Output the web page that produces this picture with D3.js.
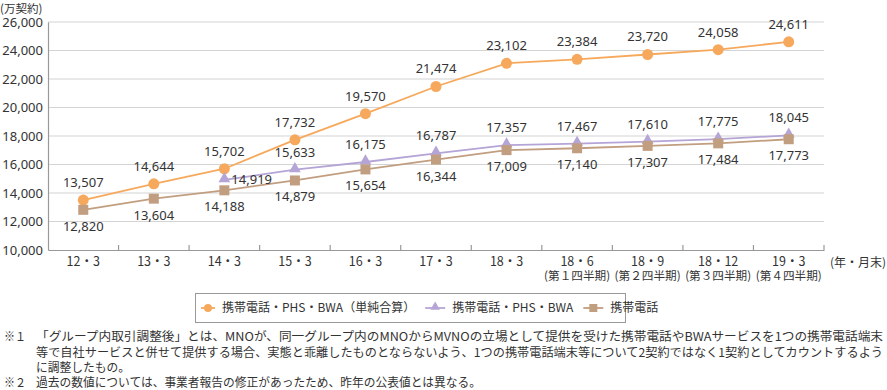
<!DOCTYPE html>
<html><head><meta charset="utf-8">
<script src="https://cdn.jsdelivr.net/npm/d3@7"></script>
<style>
body{margin:0;background:#fff;}
text{font-family:"Noto Sans CJK JP","Noto Sans",sans-serif;fill:#333;}
</style></head>
<body><svg id="c" width="887" height="390"></svg>
<script>
const categories = ["12・3","13・3","14・3","15・3","16・3","17・3","18・3","18・6","18・9","18・12","19・3"];
const subLabels = ["","","","","","","","(第１四半期)","(第２四半期)","(第３四半期)","(第４四半期)"];
const seriesTotal = [13507,14644,15702,17732,19570,21474,23102,23384,23720,24058,24611];
const seriesAdjusted = [null,null,14919,15633,16175,16787,17357,17467,17610,17775,18045];
const seriesMobile = [12820,13604,14188,14879,15654,16344,17009,17140,17307,17484,17773];
const yTicks = [10000,12000,14000,16000,18000,20000,22000,24000,26000];
const seriesNames = ["携帯電話・PHS・BWA（単純合算）","携帯電話・PHS・BWA","携帯電話"];
const notes = [
 ["※１","「グループ内取引調整後」とは、MNOが、同一グループ内のMNOからMVNOの立場として提供を受けた携帯電話やBWAサービスを1つの携帯電話端末"],
 ["","等で自社サービスと併せて提供する場合、実態と乖離したものとならないよう、1つの携帯電話端末等について2契約ではなく1契約としてカウントするよう"],
 ["","に調整したもの。"],
 ["※２","過去の数値については、事業者報告の修正があったため、昨年の公表値とは異なる。"]
];

const svg = d3.select("#c");
const L = 48, R = 824, T = 22, B = 250;
const x = d3.scaleBand().domain(categories).range([L, R]);
const y = d3.scaleLinear().domain([10000, 26000]).range([B, T]);
const fmt = d3.format(",");
const cx = c => x(c) + x.bandwidth()/2;

// gridlines
svg.append("g").selectAll("line").data(yTicks.slice(1)).join("line")
  .attr("x1", L).attr("x2", R).attr("y1", d=>y(d)).attr("y2", d=>y(d))
  .attr("stroke", "#d4d4d4").attr("stroke-width", 1.2);

// y axis
const ya = svg.append("g").attr("transform", `translate(${L},0)`)
  .call(d3.axisLeft(y).tickValues(yTicks).tickFormat(fmt).tickSize(0).tickPadding(5));
ya.select(".domain").attr("stroke", "#999").attr("stroke-width", 1.2);
ya.selectAll("text").style("font-size", "13px").attr("fill", "#333").style("font-family", "'Noto Sans',sans-serif");

// x axis
const xa = svg.append("g").attr("transform", `translate(0,${B})`)
  .call(d3.axisBottom(x).tickSize(0).tickPadding(0));
xa.select(".domain").attr("stroke", "#999").attr("stroke-width", 1.2);
xa.selectAll("text").attr("y", 16).attr("dy", null).style("font-size", "12.5px").attr("fill", "#333");
// boundary ticks
const bounds = categories.map(c => x(c)).slice(1).concat([R]);
svg.append("g").selectAll("line").data(bounds).join("line")
  .attr("x1", d=>d).attr("x2", d=>d).attr("y1", B-5).attr("y2", B)
  .attr("stroke", "#999").attr("stroke-width", 1.2);
// sub labels
svg.append("g").selectAll("text").data(categories.filter((d,i)=>subLabels[i])).join("text")
  .attr("x", d=>cx(d)).attr("y", 280).attr("text-anchor", "middle")
  .style("font-size", "11.5px")
  .attr("textLength", 66).attr("lengthAdjust", "spacingAndGlyphs")
  .text(d=>subLabels[categories.indexOf(d)]);
svg.append("text").attr("x", 830).attr("y", 267).style("font-size", "12px").text("(年・月末)");
svg.append("text").attr("x", 0).attr("y", 13).style("font-size", "11.5px").text("(万契約)");

const colors = ["#F6A95C", "#B4A5D6", "#C29E80"];
const allSeries = [seriesTotal, seriesAdjusted, seriesMobile];

allSeries.forEach((s, k) => {
  const pts = categories.map((c,i)=>({c, v:s[i], i})).filter(d=>d.v!=null);
  const line = d3.line().x(d=>cx(d.c)).y(d=>y(d.v));
  svg.append("path").datum(pts).attr("d", line).attr("fill","none")
    .attr("stroke", colors[k]).attr("stroke-width", 1.8);
  const g = svg.append("g");
  if (k === 0) {
    g.selectAll("circle").data(pts).join("circle")
      .attr("cx", d=>cx(d.c)).attr("cy", d=>y(d.v)).attr("r", 5.5).attr("fill", colors[k]);
  } else if (k === 1) {
    g.selectAll("path").data(pts).join("path")
      .attr("d", d3.symbol(d3.symbolTriangle, 60))
      .attr("transform", d=>`translate(${cx(d.c)},${y(d.v)-1})`).attr("fill", colors[k]);
  } else {
    g.selectAll("rect").data(pts).join("rect")
      .attr("x", d=>cx(d.c)-5).attr("y", d=>y(d.v)-5).attr("width", 10).attr("height", 10)
      .attr("fill", colors[k]);
  }
});

// data labels
const lab = svg.append("g").style("font-size", "13px");
function labels(s, k) {
  categories.forEach((c,i) => {
    const v = s[i]; if (v == null) return;
    let lx = cx(c), ly, anchor = "middle";
    if (k === 0) ly = y(v) - 13;
    else if (k === 1) {
      ly = y(v) - 13;
      if (i === 2) { lx = cx(c) + 7; ly = y(v) + 4; anchor = "start"; }
    } else ly = y(v) + 21;
    lab.append("text").attr("x", lx).attr("y", ly).attr("text-anchor", anchor)
      .style("font-family", "'Noto Sans',sans-serif").text(fmt(v));
  });
}
allSeries.forEach((s,k)=>labels(s,k));

// legend
const lg = svg.append("g");
lg.append("rect").attr("x", 195.5).attr("y", 293.5).attr("width", 430).attr("height", 29)
  .attr("fill", "#fff").attr("stroke", "#999");
let xpos = 201;
seriesNames.forEach((n,k) => {
  const x0 = xpos, yc = 308;
  const len = k===0 ? 14 : 20;
  lg.append("line").attr("x1", x0).attr("x2", x0+len).attr("y1", yc).attr("y2", yc)
    .attr("stroke", colors[k]).attr("stroke-width", 1.8);
  const m = x0 + len/2;
  if (k===0) lg.append("circle").attr("cx", m).attr("cy", yc).attr("r", 4).attr("fill", colors[k]);
  else if (k===1) lg.append("path").attr("d", d3.symbol(d3.symbolTriangle, 40)).attr("transform", `translate(${m},${yc-1})`).attr("fill", colors[k]);
  else lg.append("rect").attr("x", m-4).attr("y", yc-4).attr("width", 8).attr("height", 8).attr("fill", colors[k]);
  const t = lg.append("text").attr("x", x0+len+7).attr("y", yc+4).style("font-size", "12px").text(n);
  xpos = x0 + len + 7 + t.node().getComputedTextLength() + 10;
});

// notes
const ny = [341, 357, 372, 387];
const nlen = [847, 847, 94, 445];
notes.forEach((n,i)=>{
  if (n[0]) svg.append("text").attr("x", 4).attr("y", ny[i]).style("font-size", "12px")
    .attr("textLength", 22).attr("lengthAdjust", "spacingAndGlyphs").text(n[0]);
  svg.append("text").attr("x", 36).attr("y", ny[i]).style("font-size", "12px")
    .attr("textLength", nlen[i]).attr("lengthAdjust", "spacingAndGlyphs").text(n[1]);
});
</script></body></html>
